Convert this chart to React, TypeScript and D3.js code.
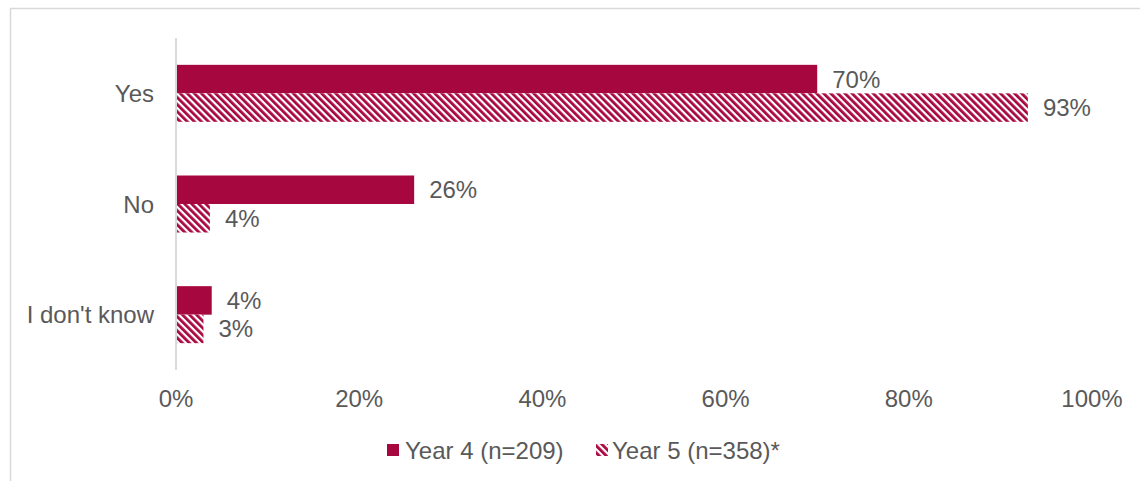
import React from "react";
import * as d3 from "d3";

const categories = ["Yes", "No", "I don't know"];
const seriesNames = ["Year 4 (n=209)", "Year 5 (n=358)*"];
const year4 = [0.70, 0.26, 0.039];
const year5 = [0.93, 0.037, 0.03];
const tickValues = [0, 0.2, 0.4, 0.6, 0.8, 1.0];

const W = 1140;
const H = 481;
const COLOR = "#A7073F";
const TEXT = "#595959";
const GRID = "#D9D9D9";
const FONT = "Arial, 'Liberation Sans', Helvetica, sans-serif";
const FS = 24;

export default function App() {
  const x = d3.scaleLinear().domain([0, 1]).range([176, 1092]);
  const y = d3
    .scaleBand<string>()
    .domain(categories)
    .range([38, 370])
    .paddingInner(0.485)
    .paddingOuter(0.2425);
  const sub = d3
    .scaleBand<string>()
    .domain(["y4", "y5"])
    .range([0, y.bandwidth()]);
  const fmt = d3.format(".0%");
  const series = [
    { key: "y4", values: year4, fill: COLOR },
    { key: "y5", values: year5, fill: "url(#hatch)" },
  ];

  return (
    <svg
      width={W}
      height={H}
      style={{ position: "absolute", left: 0, top: 0, background: "#fff" }}
      fontFamily={FONT}
    >
      <defs>
        <pattern
          id="hatch"
          patternUnits="userSpaceOnUse"
          width={5}
          height={5}
          patternTransform="rotate(-45)"
        >
          <rect x={0} y={0} width={5} height={5} fill="#fff" />
          <rect x={0} y={0} width={2.8} height={5} fill={COLOR} />
        </pattern>
      </defs>
      <rect x={0} y={0} width={W} height={H} fill="#fff" />
      <path
        d={`M10.5,${H} L10.5,8.5 L${W},8.5`}
        fill="none"
        stroke={GRID}
        strokeWidth={1.5}
      />
      {series.map((s) =>
        categories.map((c, i) => {
          const y0 = (y(c) as number) + (sub(s.key) as number);
          return (
            <g key={s.key + c}>
              <rect
                x={x(0)}
                y={y0}
                width={x(s.values[i]) - x(0)}
                height={sub.bandwidth()}
                fill={s.fill}
              />
              <text
                x={x(s.values[i]) + 15}
                y={y0 + sub.bandwidth() / 2}
                dominantBaseline="central"
                fontSize={FS}
                fill={TEXT}
              >
                {fmt(s.values[i])}
              </text>
            </g>
          );
        })
      )}
      <line x1={176} x2={176} y1={38} y2={370} stroke={GRID} strokeWidth={2} />
      {categories.map((c) => (
        <text
          key={c}
          x={154}
          y={(y(c) as number) + y.bandwidth() / 2}
          textAnchor="end"
          dominantBaseline="central"
          fontSize={FS}
          fill={TEXT}
        >
          {c}
        </text>
      ))}
      {tickValues.map((t) => (
        <text
          key={t}
          x={x(t)}
          y={398}
          textAnchor="middle"
          dominantBaseline="central"
          fontSize={FS}
          fill={TEXT}
        >
          {fmt(t)}
        </text>
      ))}
      <rect x={387} y={444} width={12} height={12} fill={COLOR} />
      <text x={405} y={450} dominantBaseline="central" fontSize={FS} fill={TEXT}>
        {seriesNames[0]}
      </text>
      <rect x={596} y={444} width={12} height={12} fill="url(#hatch)" />
      <text x={612} y={450} dominantBaseline="central" fontSize={FS} fill={TEXT}>
        {seriesNames[1]}
      </text>
    </svg>
  );
}
